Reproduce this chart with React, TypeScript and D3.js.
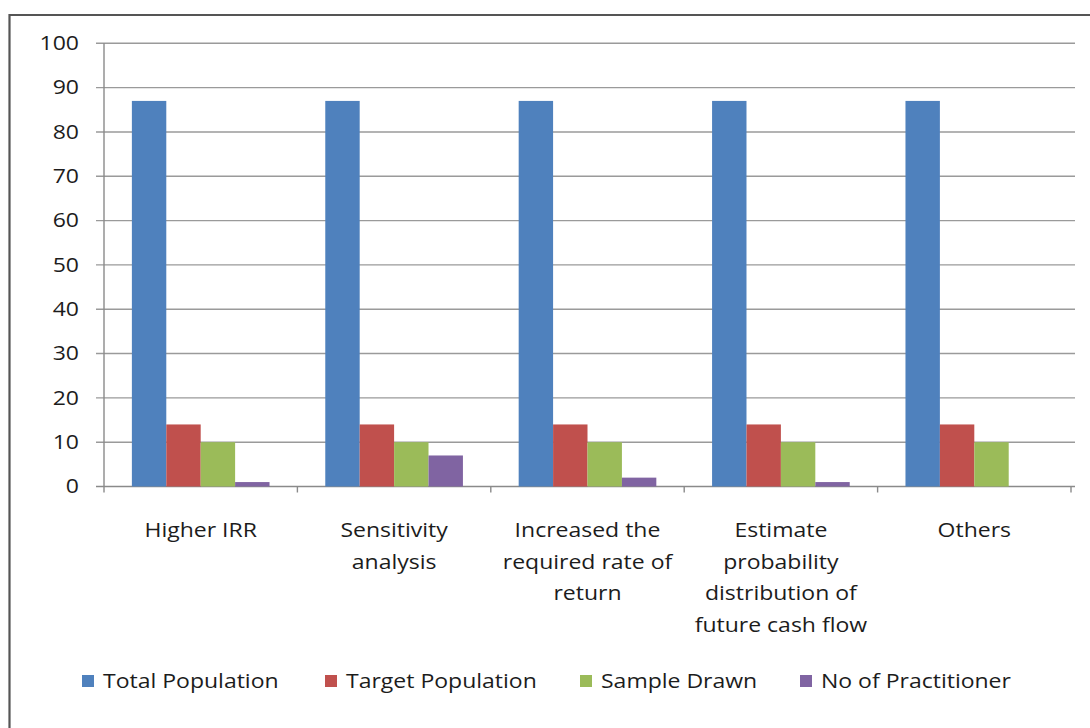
import React from "react";
import * as d3 from "d3";

const categories: string[][] = [
  ["Higher IRR"],
  ["Sensitivity", "analysis"],
  ["Increased the", "required rate of", "return"],
  ["Estimate", "probability", "distribution of", "future cash flow"],
  ["Others"],
];
const seriesNames = ["Total Population", "Target Population", "Sample Drawn", "No of Practitioner"];
const totalPopulation = [87, 87, 87, 87, 87];
const targetPopulation = [14, 14, 14, 14, 14];
const sampleDrawn = [10, 10, 10, 10, 10];
const practitioners = [1, 7, 2, 1, 0];
const seriesColors = ["#4F81BD", "#C0504D", "#9BBB59", "#8064A2"];
const yTicks = [0, 10, 20, 30, 40, 50, 60, 70, 80, 90, 100];

const W = 1090;
const H = 728;
const plot = { left: 104, right: 1071, top: 43.3, bottom: 486.5 };
const FONT = "'Open Sans', sans-serif";
const FONT_SIZE = 19.5;
const STRETCH = 1.18; // horizontal widening of all labels
const TEXT_FILL = "#1c1c1c";

export default function App() {
  const series = [totalPopulation, targetPopulation, sampleDrawn, practitioners];
  const idx = categories.map((_, i) => String(i));
  const x = d3.scaleBand<string>().domain(idx).range([plot.left, plot.right]).padding(0);
  const y = d3.scaleLinear().domain([0, 100]).range([plot.bottom, plot.top]);
  const gapRatio = 1.62;
  const barW = x.bandwidth() / (series.length + gapRatio);
  const x1 = d3
    .scaleBand<number>()
    .domain(d3.range(series.length))
    .range([(gapRatio * barW) / 2, (gapRatio * barW) / 2 + barW * series.length]);

  const legendX = [82, 325, 580, 800];

  return (
    <svg
      width={W}
      height={H}
      style={{ position: "absolute", left: 0, top: 0, background: "#fff" }}
      fontFamily={FONT}
    >
      <path d={`M9.5,${H} V15 H${W}`} fill="none" stroke="#555" strokeWidth={2.2} />

      {/* gridlines */}
      {yTicks.map((t) => (
        <line
          key={t}
          x1={96}
          x2={1075}
          y1={y(t)}
          y2={y(t)}
          stroke={t === 0 ? "#8a8a8a" : "#9a9a9a"}
          strokeWidth={1.4}
        />
      ))}
      {/* y axis */}
      <line x1={plot.left} x2={plot.left} y1={plot.top} y2={plot.bottom} stroke="#8a8a8a" strokeWidth={1.4} />
      {/* category boundary ticks */}
      {d3.range(categories.length + 1).map((i) => {
        const xx = plot.left + i * x.bandwidth();
        return <line key={i} x1={xx} x2={xx} y1={plot.bottom} y2={plot.bottom + 6} stroke="#8a8a8a" strokeWidth={1.4} />;
      })}

      {/* y tick labels */}
      {yTicks.map((t) => (
        <g key={t} transform={`translate(79,${y(t)}) scale(${STRETCH},1)`}>
          <text dy="0.35em" textAnchor="end" fontSize={FONT_SIZE} fill={TEXT_FILL}>
            {t}
          </text>
        </g>
      ))}

      {/* bars */}
      {idx.map((c, ci) => (
        <g key={c} transform={`translate(${x(c)},0)`}>
          {series.map((s, si) =>
            s[ci] > 0 ? (
              <rect
                key={si}
                x={x1(si)}
                width={x1.bandwidth()}
                y={y(s[ci])}
                height={y(0) - y(s[ci])}
                fill={seriesColors[si]}
              />
            ) : null
          )}
        </g>
      ))}

      {/* category labels */}
      {categories.map((lines, ci) => (
        <g
          key={ci}
          transform={`translate(${(x(String(ci)) as number) + x.bandwidth() / 2},0) scale(${STRETCH},1)`}
        >
          <text textAnchor="middle" fontSize={FONT_SIZE} fill={TEXT_FILL}>
            {lines.map((ln, li) => (
              <tspan key={li} x={0} y={537 + li * 31.7}>
                {ln}
              </tspan>
            ))}
          </text>
        </g>
      ))}

      {/* legend */}
      {seriesNames.map((name, i) => (
        <g key={name} transform={`translate(${legendX[i]},681)`}>
          <rect x={0} y={-6} width={12} height={12} fill={seriesColors[i]} />
          <g transform={`translate(21,0) scale(${STRETCH},1)`}>
            <text dy="0.35em" fontSize={FONT_SIZE} fill={TEXT_FILL}>
              {name}
            </text>
          </g>
        </g>
      ))}
    </svg>
  );
}
